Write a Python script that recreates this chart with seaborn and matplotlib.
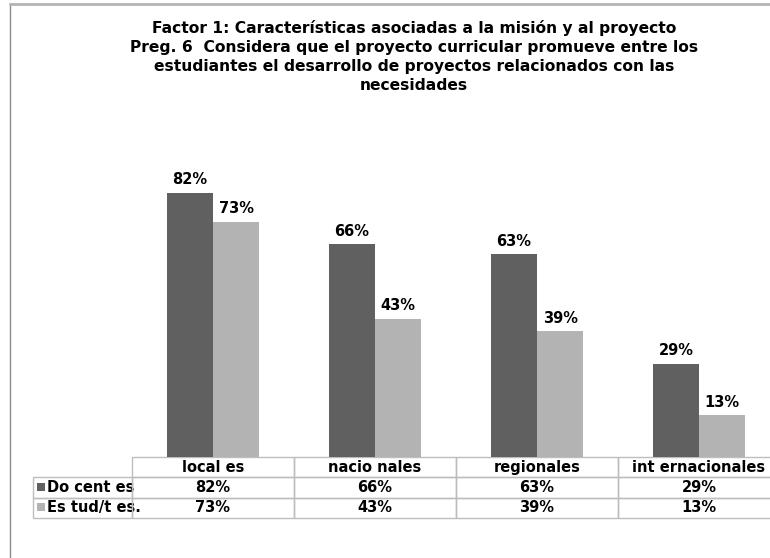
import pandas as pd
import matplotlib.pyplot as plt
import seaborn as sns
from matplotlib.lines import Line2D
from matplotlib.patches import Rectangle

# datos del gráfico
categorias = ['local es', 'nacio nales', 'regionales', 'int ernacionales']
series = ['Do cent es', 'Es tud/t es.']
docentes = [82, 66, 63, 29]
estudiantes = [73, 43, 39, 13]
colores = ['#606060', '#b3b3b3']

titulo = ('Factor 1: Características asociadas a la misión y al proyecto\n'
          'Preg. 6  Considera que el proyecto curricular promueve entre los\n'
          'estudiantes el desarrollo de proyectos relacionados con las\n'
          'necesidades')

sns.set_style('white')
plt.rcParams['font.family'] = ['DejaVu Sans']
plt.rcParams['text.color'] = 'black'

df = pd.DataFrame({
    'categoria': categorias * 2,
    'serie': [series[0]] * len(categorias) + [series[1]] * len(categorias),
    'valor': docentes + estudiantes,
})

W, H = 770, 558
fig = plt.figure(figsize=(W / 100, H / 100), dpi=100)
ax = fig.add_axes([132 / W, 1 - 457 / H, 648 / W, 322 / H])

sns.barplot(data=df, x='categoria', y='valor', hue='serie', palette=colores,
            width=0.57, gap=0, saturation=1, linewidth=0, legend=False, ax=ax)

for cont in ax.containers:
    ax.bar_label(cont, fmt='%d%%', padding=4, fontsize=10.5, fontweight='bold',
                 color='black')

ax.set_xlim(-0.5, 3.5)
ax.set_ylim(0, 100)
ax.axis('off')

# tabla de datos bajo el gráfico
filas = [[s] + [f'{v}%' for v in vals] for s, vals in zip(series, [docentes, estudiantes])]
anchos = [99, 162, 162, 162, 162]
tabla = ax.table(cellText=filas, colLabels=[''] + categorias,
                 colWidths=[a / 648 for a in anchos],
                 bbox=[-99 / 648, -61 / 322, 747 / 648, 61 / 322],
                 cellLoc='center')
tabla.auto_set_font_size(False)
tabla.set_fontsize(10.5)
for (r, c), cell in tabla.get_celld().items():
    cell.set_edgecolor('#bdbdbd')
    cell.set_facecolor('none')
    cell.set_linewidth(1)
    cell.get_text().set_fontweight('bold')
    cell.get_text().set_color('black')
    if r == 0 and c == 0:
        cell.visible_edges = 'open'
    if c == 0 and r > 0:
        cell._loc = 'left'
        cell.PAD = 0.14
        cell.get_text().set_ha('left')

# marcadores de leyenda
for i, col in enumerate(colores):
    y = 1 - (491 + 20 * i) / H
    fig.add_artist(Rectangle((37 / W, y), 8 / W, 8 / H, transform=fig.transFigure,
                             facecolor=col, edgecolor='none'))

# borde del área del gráfico
fig.add_artist(Line2D([10 / W, 10 / W], [0, 1 - 3 / H], color='#8c8c8c', lw=1))
fig.add_artist(Line2D([10 / W, 1], [1 - 3.5 / H] * 2, color='#b4b4b4', lw=2))

fig.text(414 / W, 1 - 20 / H, titulo, ha='center', va='top', fontsize=11.2,
         fontweight='bold', linespacing=1.33)

fig.savefig('out.png', dpi=100)
